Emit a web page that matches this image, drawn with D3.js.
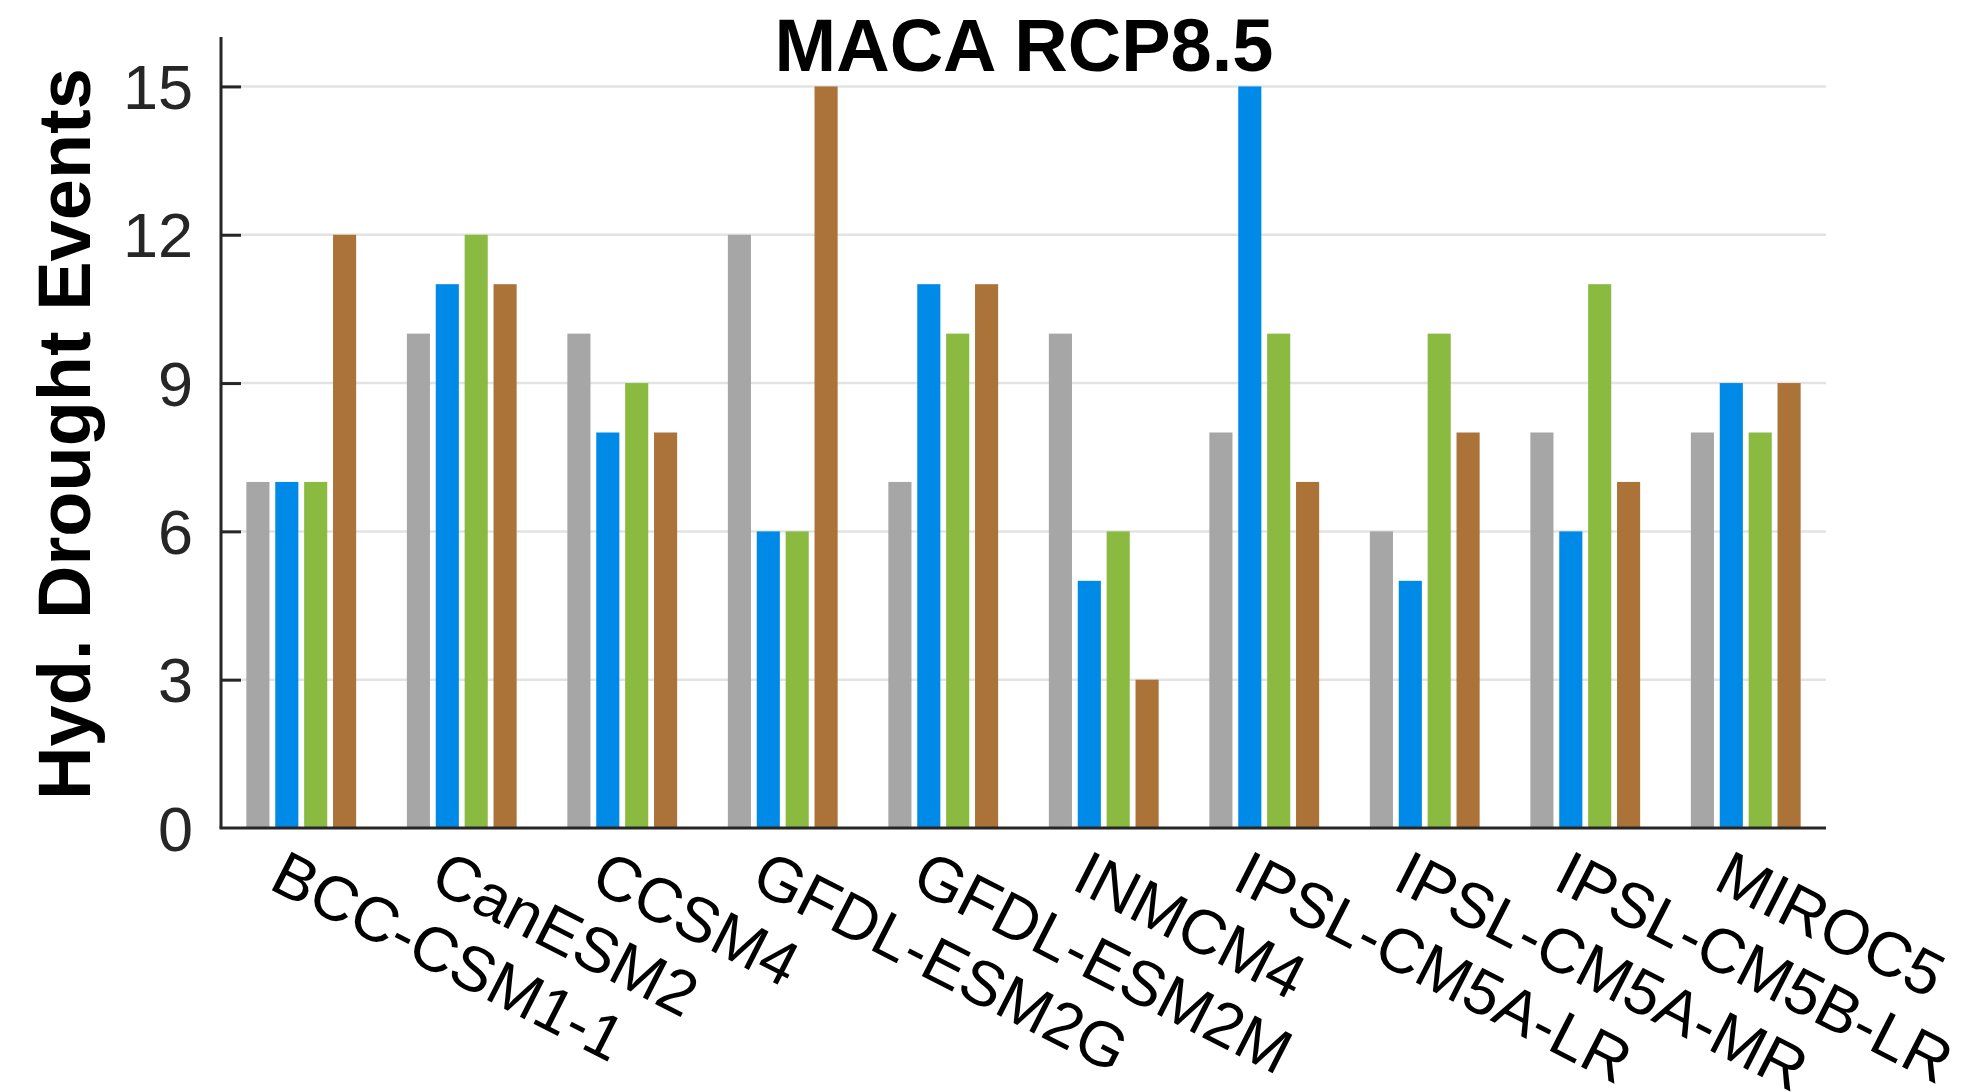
<!DOCTYPE html>
<html>
<head>
<meta charset="utf-8">
<title>MACA RCP8.5</title>
<style>
	html, body { margin:0; padding:0; background:#fff; }
	text { font-family: "Liberation Sans", Arial, Helvetica, sans-serif; }
	.grid line { stroke:#e3e3e3; stroke-width:2.5px; }
	.axis path, .axis line { stroke:#262626; }
</style>
<script src="https://d3js.org/d3.v7.min.js"></script>
</head>
<body>
<svg id="chart"></svg>
<script>

//data
var models = ["BCC-CSM1-1","CanESM2","CCSM4","GFDL-ESM2G","GFDL-ESM2M","INMCM4","IPSL-CM5A-LR","IPSL-CM5A-MR","IPSL-CM5B-LR","MIROC5"];
var seriesNames = ["s1","s2","s3","s4"];
var s1 = [7,10,10,12,7,10,8,6,8,8];
var s2 = [7,11,8,6,11,5,15,5,6,9];
var s3 = [7,12,9,6,10,6,10,10,11,8];
var s4 = [12,11,8,15,11,3,7,8,7,9];
var yTicks = [0,3,6,9,12,15];
var colors = ["#a6a6a6","#008ae8","#8bba41","#ac7339"];

var W = 1982, H = 1092,
	mLeft = 221, mRight = 1826, mBottom = 828, mTop = 37;

var svg = d3.select("#chart").attr("width", W).attr("height", H);

var x0 = d3.scaleBand().domain(models).range([mLeft, mRight]).padding(0);
var bw = x0.bandwidth();
var x1 = d3.scaleBand().domain(seriesNames).range([bw/2 - 0.36*bw, bw/2 + 0.36*bw]).paddingInner(0.2).paddingOuter(0.1);
var y = d3.scaleLinear().domain([0,16]).range([mBottom, mTop]);

var color = d3.scaleOrdinal().domain(seriesNames).range(colors);

//grid
svg.append("g").attr("class","grid")
	.selectAll("line").data(yTicks.filter(function(d){return d>0;})).enter()
	.append("line")
	.attr("x1", mLeft).attr("x2", mRight)
	.attr("y1", function(d){return y(d);}).attr("y2", function(d){return y(d);});

//bars
var rows = models.map(function(m,i){ return {model:m, vals:[s1[i],s2[i],s3[i],s4[i]]}; });
svg.append("g").selectAll("g").data(rows).enter()
	.append("g").attr("transform", function(d){ return "translate(" + x0(d.model) + ",0)"; })
	.selectAll("rect").data(function(d){ return d.vals.map(function(v,j){ return {k:seriesNames[j], v:v}; }); }).enter()
	.append("rect")
	.attr("x", function(d){ return x1(d.k); })
	.attr("width", x1.bandwidth())
	.attr("y", function(d){ return y(d.v); })
	.attr("height", function(d){ return y(0) - y(d.v); })
	.attr("fill", function(d){ return color(d.k); });

//y axis (inward ticks)
var yAxis = svg.append("g").attr("class","axis")
	.attr("transform","translate(" + mLeft + ",0)")
	.call(d3.axisRight(y).tickValues(yTicks).tickSize(20).tickSizeOuter(0).tickFormat(""));
yAxis.select(".domain").attr("d", "M0," + y(16) + "V" + y(0)).style("stroke-width","3px");
yAxis.selectAll(".tick line").style("stroke-width","3px");
yAxis.selectAll(".tick").filter(function(d){return d===0;}).select("line").remove();

svg.append("g").selectAll("text").data(yTicks).enter()
	.append("text")
	.attr("x", mLeft - 28).attr("y", function(d){ return y(d); })
	.attr("dy","0.36em")
	.attr("text-anchor","end")
	.style("font-size","63px").style("fill","#262626")
	.text(function(d){ return d; });

//x axis
svg.append("line")
	.attr("x1", mLeft - 1.5).attr("x2", mRight)
	.attr("y1", mBottom).attr("y2", mBottom)
	.style("stroke","#262626").style("stroke-width","3px");

svg.append("g").selectAll("text").data(models).enter()
	.append("text")
	.attr("transform", function(d){ return "translate(" + (x0(d) + bw/2 - 34) + "," + 888 + ") rotate(27)"; })
	.attr("text-anchor","start")
	.style("font-size","63px").style("fill","#000")
	.text(function(d){ return d; });

//title
svg.append("text")
	.attr("x", 1024).attr("y", 71)
	.attr("text-anchor","middle")
	.style("font-size","74px").style("font-weight","bold")
	.text("MACA RCP8.5");

//y label
svg.append("text")
	.attr("transform","translate(90,434) rotate(-90)")
	.attr("text-anchor","middle")
	.style("font-size","74px").style("font-weight","bold")
	.text("Hyd. Drought Events");

</script>
</body>
</html>
